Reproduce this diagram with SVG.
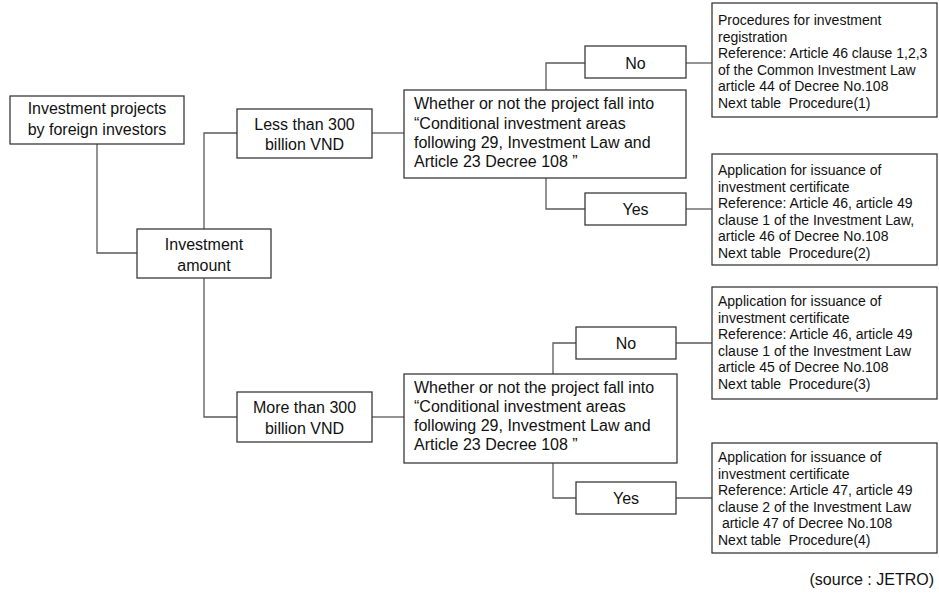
<svg xmlns="http://www.w3.org/2000/svg" width="939" height="595" viewBox="0 0 939 595">
  <style>
    .box { fill: #ffffff; stroke: #3a3a3a; stroke-width: 1.3; }
    .wire { fill: none; stroke: #5a5a5a; stroke-width: 1.3; }
    .t { font-family: "Liberation Sans", Arial, sans-serif; font-size: 16px; fill: #111; }
    .c { text-anchor: middle; }
    .s { font-family: "Liberation Sans", Arial, sans-serif; font-size: 14px; fill: #111; white-space: pre; }
  </style>
  <rect width="939" height="595" fill="#ffffff"/>

  <!-- connectors -->
  <g id="connectors">
    <polyline class="wire" points="97,144 97,253 137,253"/>
    <polyline class="wire" points="204,229 204,133 237,133"/>
    <polyline class="wire" points="204,278 204,417 237,417"/>
    <line class="wire" x1="372" y1="133" x2="404" y2="133"/>
    <line class="wire" x1="372" y1="417" x2="404" y2="417"/>
    <polyline class="wire" points="546,90 546,63 585,63"/>
    <polyline class="wire" points="546,178 546,209 585,209"/>
    <line class="wire" x1="686" y1="63" x2="712" y2="63"/>
    <line class="wire" x1="686" y1="209" x2="712" y2="209"/>
    <polyline class="wire" points="553,374 553,343 576,343"/>
    <polyline class="wire" points="553,463 553,498 576,498"/>
    <line class="wire" x1="676" y1="343" x2="712" y2="343"/>
    <line class="wire" x1="676" y1="498" x2="712" y2="498"/>
  </g>

  <g id="projects">
    <rect class="box" x="10" y="96" width="174" height="48"/>
    <text class="t c" x="97" y="114">Investment projects</text>
    <text class="t c" x="97" y="135">by foreign investors</text>
  </g>

  <g id="amount">
    <rect class="box" x="137" y="229" width="134" height="49"/>
    <text class="t c" x="204" y="250">Investment</text>
    <text class="t c" x="204" y="271">amount</text>
  </g>

  <g id="less300">
    <rect class="box" x="237" y="109" width="135" height="49"/>
    <text class="t c" x="304.5" y="130">Less than 300</text>
    <text class="t c" x="304.5" y="150">billion VND</text>
  </g>

  <g id="more300">
    <rect class="box" x="237" y="392" width="135" height="50"/>
    <text class="t c" x="304.5" y="413">More than 300</text>
    <text class="t c" x="304.5" y="434">billion VND</text>
  </g>

  <g id="question-less">
    <rect class="box" x="404" y="90" width="282" height="88"/>
    <text class="t" x="414" y="109">Whether or not the project fall into</text>
    <text class="t" x="414" y="128.5">“Conditional investment areas</text>
    <text class="t" x="414" y="148">following 29, Investment Law and</text>
    <text class="t" x="414" y="167">Article 23 Decree 108 ”</text>
  </g>

  <g id="question-more">
    <rect class="box" x="404" y="374" width="273" height="89"/>
    <text class="t" x="414" y="393">Whether or not the project fall into</text>
    <text class="t" x="414" y="412">“Conditional investment areas</text>
    <text class="t" x="414" y="431">following 29, Investment Law and</text>
    <text class="t" x="414" y="450">Article 23 Decree 108 ”</text>
  </g>

  <g id="no-less">
    <rect class="box" x="585" y="46" width="101" height="32"/>
    <text class="t c" x="635.5" y="69">No</text>
  </g>
  <g id="yes-less">
    <rect class="box" x="585" y="193" width="101" height="32"/>
    <text class="t c" x="635.5" y="215">Yes</text>
  </g>
  <g id="no-more">
    <rect class="box" x="576" y="327" width="100" height="32"/>
    <text class="t c" x="626" y="349">No</text>
  </g>
  <g id="yes-more">
    <rect class="box" x="576" y="482" width="100" height="32"/>
    <text class="t c" x="626" y="504">Yes</text>
  </g>

  <g id="procedure-1">
    <rect class="box" x="712" y="3" width="225" height="114"/>
    <text class="s" x="718" y="25">Procedures for investment</text>
    <text class="s" x="718" y="41.5">registration</text>
    <text class="s" x="718" y="58">Reference: Article 46 clause 1,2,3</text>
    <text class="s" x="718" y="74.5">of the Common Investment Law</text>
    <text class="s" x="718" y="91">article 44 of Decree No.108</text>
    <text class="s" x="718" y="107.5">Next table  Procedure(1)</text>
  </g>

  <g id="procedure-2">
    <rect class="box" x="712" y="154" width="225" height="111"/>
    <text class="s" x="718" y="175">Application for issuance of</text>
    <text class="s" x="718" y="191.5">investment certificate</text>
    <text class="s" x="718" y="208">Reference: Article 46, article 49</text>
    <text class="s" x="718" y="224.5">clause 1 of the Investment Law,</text>
    <text class="s" x="718" y="241">article 46 of Decree No.108</text>
    <text class="s" x="718" y="257.5">Next table  Procedure(2)</text>
  </g>

  <g id="procedure-3">
    <rect class="box" x="712" y="287" width="225" height="112"/>
    <text class="s" x="718" y="306">Application for issuance of</text>
    <text class="s" x="718" y="322.5">investment certificate</text>
    <text class="s" x="718" y="339">Reference: Article 46, article 49</text>
    <text class="s" x="718" y="355.5">clause 1 of the Investment Law</text>
    <text class="s" x="718" y="372">article 45 of Decree No.108</text>
    <text class="s" x="718" y="388.5">Next table  Procedure(3)</text>
  </g>

  <g id="procedure-4">
    <rect class="box" x="712" y="443" width="225" height="110"/>
    <text class="s" x="718" y="462">Application for issuance of</text>
    <text class="s" x="718" y="478.5">investment certificate</text>
    <text class="s" x="718" y="495">Reference: Article 47, article 49</text>
    <text class="s" x="718" y="511.5">clause 2 of the Investment Law</text>
    <text class="s" x="718" y="528"> article 47 of Decree No.108</text>
    <text class="s" x="718" y="544.5">Next table  Procedure(4)</text>
  </g>

  <text class="t" x="934" y="585" text-anchor="end" font-size="15">(source : JETRO)</text>
</svg>
